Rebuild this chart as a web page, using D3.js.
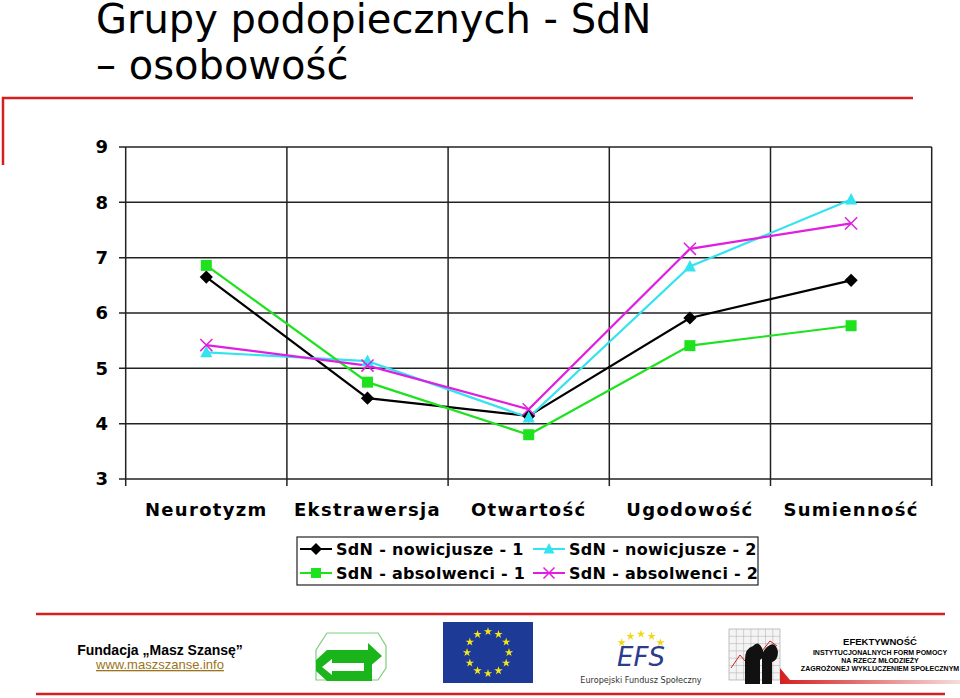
<!DOCTYPE html>
<html>
<head>
<meta charset="utf-8">
<script src="https://cdn.jsdelivr.net/npm/d3@7/dist/d3.min.js"></script>
<style>
  body { margin: 0; background: #fff; }
  svg { display: block; }
</style>
</head>
<body>
<div id="chart"></div>
<script>
// chart data
const categories = ["Neurotyzm", "Ekstrawersja", "Otwartość", "Ugodowość", "Sumienność"];
const yTicks = [3, 4, 5, 6, 7, 8, 9];
const nowicjusze1 = [6.65, 4.46, 4.14, 5.91, 6.59];
const absolwenci1 = [6.86, 4.75, 3.80, 5.41, 5.77];
const nowicjusze2 = [5.29, 5.13, 4.11, 6.84, 8.05];
const absolwenci2 = [5.42, 5.05, 4.26, 7.16, 7.62];

const series = [
  { name: "SdN - nowicjusze - 1", values: nowicjusze1, color: "#000000", marker: "diamond" },
  { name: "SdN - nowicjusze - 2", values: nowicjusze2, color: "#33e3f0", marker: "triangle" },
  { name: "SdN - absolwenci - 1", values: absolwenci1, color: "#1ee21e", marker: "square" },
  { name: "SdN - absolwenci - 2", values: absolwenci2, color: "#e01ee0", marker: "cross" }
];

const W = 960, H = 698;
const svg = d3.select("#chart").append("svg").attr("width", W).attr("height", H);

// slide title
svg.append("text").attr("x", 96).attr("y", 33)
  .style("font-family", "'DejaVu Sans', Verdana").style("font-size", "40px")
  .text("Grupy podopiecznych - SdN");
svg.append("text").attr("x", 96).attr("y", 79)
  .style("font-family", "'DejaVu Sans', Verdana").style("font-size", "40px")
  .text("– osobowość");

// red frame at the top left
svg.append("path").attr("d", "M3,165 V98 H913")
  .attr("fill", "none").attr("stroke", "#d42020").attr("stroke-width", 2.5);

// plot area
const x = d3.scaleBand().domain(categories).range([125.7, 931.7]);
const y = d3.scaleLinear().domain([3, 9]).range([479, 147]);
const chart = svg.append("g");
const bold = "'DejaVu Sans', Verdana, sans-serif";

// horizontal gridlines + left ticks
chart.selectAll(".hgrid").data(yTicks).enter().append("line")
  .attr("x1", 119).attr("x2", 931.7)
  .attr("y1", d => y(d)).attr("y2", d => y(d))
  .attr("stroke", "#222").attr("stroke-width", 1.5);

// vertical gridlines at category boundaries
const bounds = categories.map(c => x(c) + x.bandwidth());
chart.selectAll(".vgrid").data(bounds).enter().append("line")
  .attr("x1", d => d).attr("x2", d => d)
  .attr("y1", y(9)).attr("y2", y(3) + 7)
  .attr("stroke", "#222").attr("stroke-width", 1.5);

// left axis line
chart.append("line").attr("x1", x.range()[0]).attr("x2", x.range()[0])
  .attr("y1", y(9)).attr("y2", y(3) + 7)
  .attr("stroke", "#222").attr("stroke-width", 1.5);

// y tick labels
chart.selectAll(".ylab").data(yTicks).enter().append("text")
  .attr("x", 108).attr("y", d => y(d)).attr("dy", "0.36em")
  .attr("text-anchor", "end")
  .style("font-family", bold).style("font-weight", "bold").style("font-size", "18px")
  .text(d => d);

// category labels
chart.selectAll(".xlab").data(categories).enter().append("text")
  .attr("x", d => x(d) + x.bandwidth() / 2).attr("y", 516)
  .attr("text-anchor", "middle")
  .style("font-family", bold).style("font-weight", "bold").style("font-size", "18px")
  .style("letter-spacing", "1.3px")
  .text(d => d);

// markers
function drawMarker(g, type, color, cx, cy, s) {
  if (type === "diamond") {
    g.append("path").attr("d", `M${cx},${cy - s * 0.6} L${cx + s * 0.6},${cy} L${cx},${cy + s * 0.6} L${cx - s * 0.6},${cy} Z`)
      .attr("fill", color);
  } else if (type === "square") {
    g.append("rect").attr("x", cx - s / 2).attr("y", cy - s / 2).attr("width", s).attr("height", s)
      .attr("fill", color);
  } else if (type === "triangle") {
    g.append("path").attr("d", `M${cx},${cy - s * 0.6} L${cx + s * 0.55},${cy + s * 0.45} L${cx - s * 0.55},${cy + s * 0.45} Z`)
      .attr("fill", color);
  } else {
    const r = s * 0.55;
    g.append("path").attr("d", `M${cx - r},${cy - r} L${cx + r},${cy + r} M${cx - r},${cy + r} L${cx + r},${cy - r}`)
      .attr("stroke", color).attr("stroke-width", 1.5);
  }
}

const line = d3.line().x((d, i) => x(categories[i]) + x.bandwidth() / 2).y(d => y(d));
series.forEach(s => {
  chart.append("path").datum(s.values).attr("d", line)
    .attr("fill", "none").attr("stroke", s.color).attr("stroke-width", 2.2);
});
series.forEach(s => {
  s.values.forEach((v, i) => {
    drawMarker(chart, s.marker, s.color, x(categories[i]) + x.bandwidth() / 2, y(v), 11);
  });
});

// legend
const legend = svg.append("g");
legend.append("rect").attr("x", 297).attr("y", 537).attr("width", 461).attr("height", 48)
  .attr("fill", "#fff").attr("stroke", "#222").attr("stroke-width", 1.2);
const legPos = [[300, 549], [533, 549], [300, 573], [533, 573]];
series.forEach((s, i) => {
  const [lx, ly] = legPos[i];
  legend.append("line").attr("x1", lx).attr("x2", lx + 32).attr("y1", ly).attr("y2", ly)
    .attr("stroke", s.color).attr("stroke-width", 2);
  drawMarker(legend, s.marker, s.color, lx + 16, ly, 10);
  legend.append("text").attr("x", lx + 36).attr("y", ly).attr("dy", "0.36em")
    .style("font-family", bold).style("font-weight", "bold").style("font-size", "16px")
    .style("letter-spacing", "0.3px")
    .text(s.name);
});

// footer
const foot = svg.append("g");
foot.append("line").attr("x1", 36).attr("x2", 945).attr("y1", 614).attr("y2", 614)
  .attr("stroke", "#d42020").attr("stroke-width", 2.5);
foot.append("line").attr("x1", 36).attr("x2", 945).attr("y1", 694).attr("y2", 694)
  .attr("stroke", "#d42020").attr("stroke-width", 2.5);
foot.append("text").attr("x", 160).attr("y", 655).attr("text-anchor", "middle")
  .style("font-family", "'Liberation Sans', Arial").style("font-weight", "bold").style("font-size", "14px")
  .text("Fundacja „Masz Szansę”");
foot.append("text").attr("x", 160).attr("y", 669).attr("text-anchor", "middle")
  .style("font-family", "'Liberation Sans', Arial").style("font-size", "13px")
  .style("text-decoration", "underline").attr("fill", "#9a7420")
  .text("www.maszszanse.info");

// green arrows logo
foot.append("path").attr("d", "M327,633 H378 L386,646 V668 L378,680 H316 V650 Z")
  .attr("fill", "none").attr("stroke", "#7ccf7c").attr("stroke-width", 1.2);
foot.append("path").attr("d", "M334,650 H368 V643 L382,656 L368,668 V661 H334 Z")
  .attr("fill", "#1ab51a");
foot.append("path").attr("d", "M316,660 L327,650 H334 V661 H372 V681 H327 L316,671 Z")
  .attr("fill", "#1ab51a");
foot.append("path").attr("d", "M322,667 L332,659 V663 H364 V671 H332 V675 Z")
  .attr("fill", "#fff");

// EU flag
foot.append("rect").attr("x", 443).attr("y", 622).attr("width", 90).attr("height", 61).attr("fill", "#1c3a96");
const star = d3.symbol().type(d3.symbolStar).size(22);
d3.range(12).forEach(i => {
  const a = i * Math.PI / 6;
  foot.append("path").attr("d", star)
    .attr("transform", `translate(${488 + 21 * Math.sin(a)},${652.5 - 21 * Math.cos(a)})`)
    .attr("fill", "#f5e51a");
});

// EFS logo
d3.range(5).forEach(i => {
  const a = -Math.PI / 2 + (i - 2) * 0.42;
  foot.append("path").attr("d", star)
    .attr("transform", `translate(${641 + 26 * Math.cos(a)},${660 + 26 * Math.sin(a)})`)
    .attr("fill", "#f0d818");
});
foot.append("text").attr("x", 641).attr("y", 666).attr("text-anchor", "middle")
  .style("font-family", "'DejaVu Sans'").style("font-style", "italic").style("font-size", "26px")
  .attr("fill", "#2c3b8c").text("EFS");
foot.append("text").attr("x", 641).attr("y", 683).attr("text-anchor", "middle")
  .style("font-family", "'DejaVu Sans Condensed'").style("font-size", "9px")
  .attr("fill", "#333").text("Europejski Fundusz Społeczny");

// project logo
const grad = svg.append("defs").append("linearGradient").attr("id", "fade");
grad.append("stop").attr("offset", "0%").attr("stop-color", "#d42020");
grad.append("stop").attr("offset", "100%").attr("stop-color", "#f6dcdc");
foot.append("rect").attr("x", 729).attr("y", 629).attr("width", 51).attr("height", 51)
  .attr("fill", "#f4f4f4").attr("stroke", "#999").attr("stroke-width", 0.6);
d3.range(1, 7).forEach(i => {
  foot.append("line").attr("x1", 729 + i * 7.3).attr("x2", 729 + i * 7.3).attr("y1", 629).attr("y2", 680)
    .attr("stroke", "#aaa").attr("stroke-width", 0.5);
  foot.append("line").attr("x1", 729).attr("x2", 780).attr("y1", 629 + i * 7.3).attr("y2", 629 + i * 7.3)
    .attr("stroke", "#aaa").attr("stroke-width", 0.5);
});
foot.append("path").attr("d", "M731,668 L740,655 L745,661 L752,649 L762,651 L770,641 L777,646")
  .attr("fill", "none").attr("stroke", "#d42020").attr("stroke-width", 1);
foot.append("path").attr("d", "M745,684 V660 Q745,648 753,646 Q758,640 762,648 Q766,656 760,660 V684 Z M762,684 V658 Q763,648 770,645 Q776,642 778,652 Q778,660 772,662 V684 Z")
  .attr("fill", "#111");
foot.append("path").attr("d", "M780,668 L790,680 H960 V684 H780 Z").attr("fill", "url(#fade)");
const small = [
  ["EFEKTYWNOŚĆ", 645, "9.5px"],
  ["INSTYTUCJONALNYCH FORM POMOCY", 655, "7px"],
  ["NA RZECZ MŁODZIEŻY", 663, "7px"],
  ["ZAGROŻONEJ WYKLUCZENIEM SPOŁECZNYM", 671, "7px"]
];
foot.selectAll(".proj").data(small).enter().append("text")
  .attr("x", 880).attr("y", d => d[1]).attr("text-anchor", "middle")
  .style("font-family", "'Liberation Sans', Arial").style("font-weight", "bold").style("font-size", d => d[2])
  .text(d => d[0]);
</script>
</body>
</html>
